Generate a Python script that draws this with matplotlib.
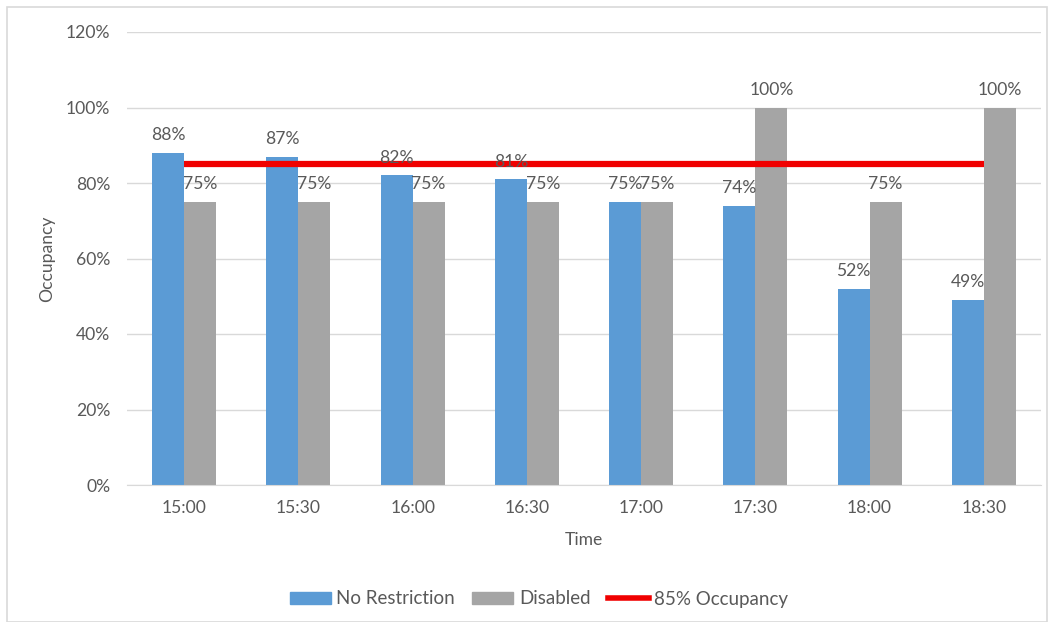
import matplotlib
matplotlib.use("Agg")
import matplotlib.pyplot as plt
import numpy as np
from matplotlib.patches import Patch, Rectangle
from matplotlib.lines import Line2D

times = ["15:00", "15:30", "16:00", "16:30", "17:00", "17:30", "18:00", "18:30"]
no_restriction = [88, 87, 82, 81, 75, 74, 52, 49]
disabled = [75, 75, 75, 75, 75, 100, 75, 100]
threshold = [85] * len(times)
yticks = [0, 20, 40, 60, 80, 100, 120]

plt.rcParams['font.family'] = ['Lato', 'DejaVu Sans']
txt = "#595959"
blue = "#5B9BD5"
gray = "#A5A5A5"
red = "#F00000"
fs = 12.6

fig = plt.figure(figsize=(10.52, 6.22), dpi=100)
ax = fig.add_axes([127/1052, 1 - 485/622, 914/1052, 453/622])

x = np.arange(len(times))
w = 0.28
ax.bar(x - w/2, no_restriction, w, color=blue, zorder=2)
ax.bar(x + w/2, disabled, w, color=gray, zorder=2)
ax.plot(x, threshold, color=red, lw=4.5, zorder=3, solid_capstyle='butt')

for xi, v in zip(x, no_restriction):
    ax.annotate(f"{v}%", (xi - w/2, v), xytext=(0, 7), textcoords="offset points",
                ha="center", va="bottom", fontsize=fs, color=txt, zorder=4)
for xi, v in zip(x, disabled):
    ax.annotate(f"{v}%", (xi + w/2, v), xytext=(0, 7), textcoords="offset points",
                ha="center", va="bottom", fontsize=fs, color=txt, zorder=4)

ax.set_xlim(-0.5, len(times) - 0.5)
ax.set_ylim(0, 120)
ax.set_yticks(yticks)
ax.set_yticklabels([f"{t}%" for t in yticks])
ax.set_xticks(x)
ax.set_xticklabels(times)
ax.tick_params(axis='both', length=0, labelsize=fs, labelcolor=txt)
ax.tick_params(axis='y', pad=12)
ax.tick_params(axis='x', pad=11)
ax.yaxis.grid(True, color="#D9D9D9", lw=1, zorder=0)
ax.set_axisbelow(True)
for s in ["top", "right", "left"]:
    ax.spines[s].set_visible(False)
ax.spines["bottom"].set_color("#D9D9D9")

ax.set_ylabel("Occupancy", fontsize=fs, color=txt)
ax.yaxis.set_label_coords(-0.079, 0.5)
ax.set_xlabel("Time", fontsize=fs, color=txt)
ax.xaxis.set_label_coords(0.5, -0.104)

handles = [Patch(color=blue, label="No Restriction"),
           Patch(color=gray, label="Disabled"),
           Line2D([0], [0], color=red, lw=4, label="85% Occupancy")]
fig.legend(handles=handles, loc="center", bbox_to_anchor=(539/1052, 1 - 599/622),
           ncol=3, frameon=False, fontsize=13.5, labelcolor=txt,
           handlelength=2.2, handleheight=0.55, handletextpad=0.3, columnspacing=0.9)

fig.patches.append(Rectangle((7/1052, 0.0), 1040/1052, 1 - 7/622, transform=fig.transFigure,
                             fill=False, edgecolor="#D9D9D9", lw=1.2))

fig.savefig("out.png", dpi=100)
